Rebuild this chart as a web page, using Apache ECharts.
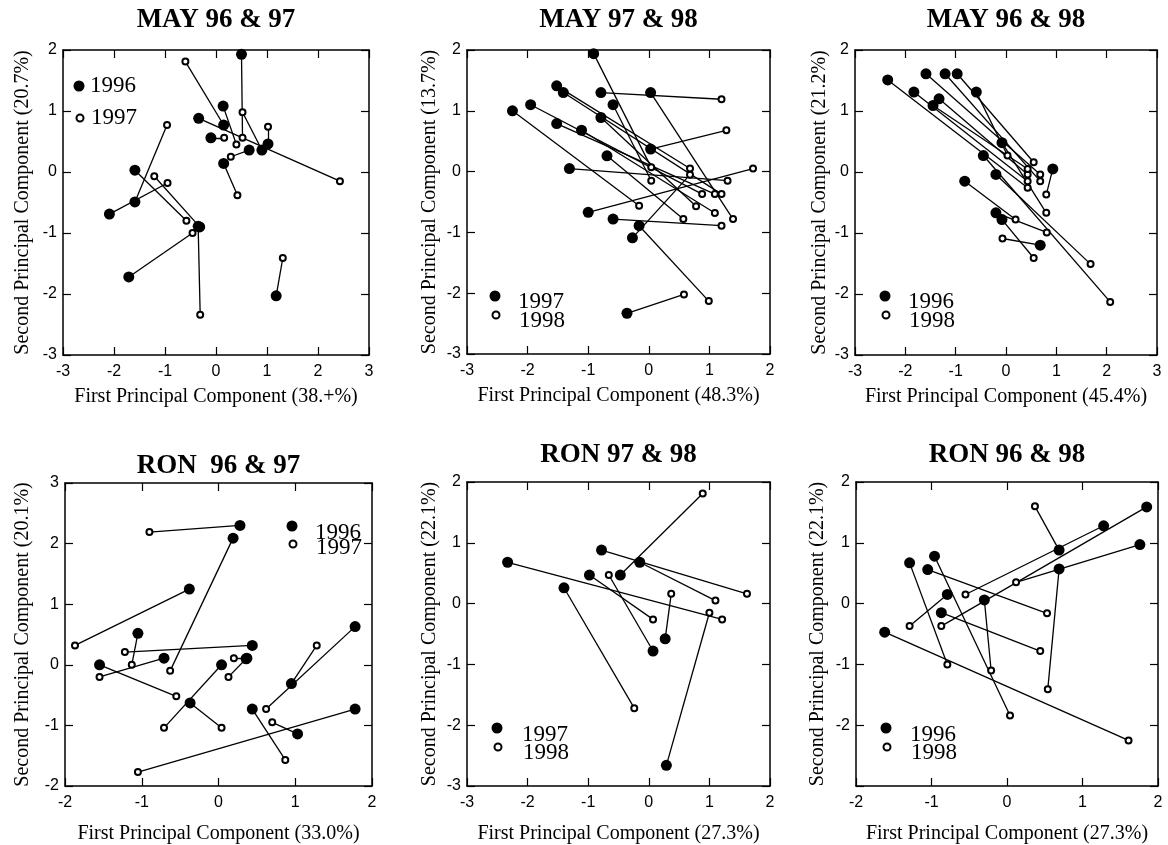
<!DOCTYPE html>
<html><head><meta charset="utf-8">
<script src="https://cdn.jsdelivr.net/npm/echarts@6/dist/echarts.min.js"></script>
<style>html,body{margin:0;padding:0;background:#fff}#c{width:1168px;height:845px}</style>
</head><body><div id="c"></div>
<script>
// ---------------- data (paired by index: earlier year -> later year) ----------------
const may9697_1996 = [[0.50,1.93],[0.14,1.08],[-0.34,0.88],[0.15,0.77],[-0.10,0.56],[0.65,0.36],[0.90,0.36],[1.02,0.46],[0.15,0.14],[-1.59,0.03],[-1.59,-0.49],[-2.09,-0.69],[-0.32,-0.90],[-0.35,-0.89],[-1.71,-1.72],[1.18,-2.03]];
const may9697_1997 = [[0.52,0.56],[0.40,0.45],[2.43,-0.15],[-0.60,1.81],[0.16,0.56],[0.29,0.25],[0.52,0.98],[1.02,0.74],[0.42,-0.38],[-0.58,-0.80],[-0.96,0.77],[-0.95,-0.18],[-1.21,-0.07],[-0.31,-2.34],[-0.46,-1.00],[1.31,-1.41]];

const may9798_1997 = [[-0.91,1.94],[-1.52,1.41],[-1.41,1.30],[-0.79,1.30],[0.03,1.30],[-0.59,1.10],[-1.95,1.10],[-2.25,1.00],[-0.79,0.89],[-1.52,0.79],[-1.11,0.68],[0.03,0.37],[-0.69,0.26],[-1.31,0.05],[-1.00,-0.67],[-0.59,-0.78],[-0.16,-0.89],[-0.27,-1.09],[-0.36,-2.33]];
const may9798_1998 = [[0.04,0.07],[0.68,0.05],[1.20,-0.37],[1.20,1.19],[1.39,-0.78],[0.04,-0.15],[0.88,-0.37],[-0.16,-0.56],[0.78,-0.57],[1.09,-0.37],[1.09,-0.68],[1.28,0.68],[0.57,-0.78],[1.30,-0.15],[1.72,0.05],[1.20,-0.89],[0.99,-2.13],[0.68,-0.05],[0.58,-2.02]];

const may9698_1996 = [[-2.35,1.51],[-1.83,1.31],[-1.59,1.61],[-1.21,1.61],[-0.97,1.61],[-0.59,1.31],[-1.33,1.20],[-1.45,1.09],[-0.08,0.48],[-0.45,0.27],[0.93,0.05],[-0.82,-0.15],[-0.20,-0.04],[-0.20,-0.67],[-0.08,-0.78],[0.68,-1.20]];
const may9698_1998 = [[0.43,-0.26],[0.43,-0.15],[0.68,-0.04],[0.68,-0.15],[0.55,0.16],[0.03,0.27],[0.43,-0.04],[0.43,0.05],[0.80,-0.67],[2.07,-2.13],[0.80,-0.37],[0.19,-0.78],[1.68,-1.51],[0.81,-0.99],[0.55,-1.41],[-0.07,-1.09]];

const ron9697_1996 = [[0.28,2.30],[0.19,2.09],[-0.38,1.25],[-1.05,0.52],[0.44,0.32],[-1.55,0.00],[-0.71,0.11],[0.04,0.00],[0.37,0.11],[0.36,0.10],[-0.37,-0.63],[1.78,0.63],[0.95,-0.31],[0.44,-0.73],[1.03,-1.14],[1.78,-0.73]];
const ron9697_1997 = [[-0.90,2.19],[-0.63,-0.10],[-1.87,0.32],[-1.13,0.00],[-1.22,0.21],[-0.55,-0.52],[-1.55,-0.20],[-0.71,-1.04],[0.20,0.11],[0.13,-0.20],[0.04,-1.04],[0.62,-0.73],[1.28,0.32],[0.87,-1.57],[0.70,-0.95],[-1.05,-1.77]];

const ron9798_1997 = [[-2.33,0.68],[-0.78,0.88],[-0.15,0.68],[-0.98,0.47],[-0.47,0.47],[-1.40,0.26],[0.27,-0.58],[0.07,-0.78],[0.29,-2.66]];
const ron9798_1998 = [[1.21,-0.26],[1.62,0.16],[1.10,0.05],[0.07,-0.26],[0.89,1.81],[-0.24,-1.72],[0.37,0.16],[-0.66,0.47],[1.00,-0.15]];

const ron9698_1996 = [[1.85,1.59],[1.28,1.28],[0.69,0.88],[1.76,0.97],[0.69,0.57],[-1.29,0.67],[-0.96,0.78],[-1.05,0.56],[-0.79,0.15],[-0.30,0.06],[-0.87,-0.15],[-1.62,-0.47]];
const ron9698_1998 = [[-0.87,-0.37],[-0.55,0.15],[0.37,1.60],[0.12,0.35],[0.54,-1.41],[-0.79,-1.00],[0.04,-1.84],[0.53,-0.16],[-1.29,-0.37],[-0.21,-1.10],[0.44,-0.78],[1.61,-2.25]];

// titles, legend labels, axis ranges and axis names
const titles = ['MAY 96 & 97','MAY 97 & 98','MAY 96 & 98','RON  96 & 97','RON 97 & 98','RON 96 & 98'];
const yearA = ['1996','1997','1996','1996','1997','1996'];
const yearB = ['1997','1998','1998','1997','1998','1998'];
const xRanges = [[-3,3],[-3,2],[-3,3],[-2,2],[-3,2],[-2,2]];
const yRanges = [[-3,2],[-3,2],[-3,2],[-2,3],[-3,2],[-3,2]];
const hiddenYLabels = [[],[],[],[],[],[-3]];
const xNames = ['First Principal Component (38.+%)','First Principal Component (48.3%)','First Principal Component (45.4%)','First Principal Component (33.0%)','First Principal Component (27.3%)','First Principal Component (27.3%)'];
const yNames = ['Second Principal Component (20.7%)','Second Principal Component (13.7%)','Second Principal Component (21.2%)','Second Principal Component (20.1%)','Second Principal Component (22.1%)','Second Principal Component (22.1%)'];
const seriesA = [may9697_1996, may9798_1997, may9698_1996, ron9697_1996, ron9798_1997, ron9698_1996];
const seriesB = [may9697_1997, may9798_1998, may9698_1998, ron9697_1997, ron9798_1998, ron9698_1998];

// ---------------- layout (pixels) ----------------
// legend entries: [iconCenterX, iconCenterY, textLeftX, textCenterY]
const layout = [
  {grid:[63,50,306,305], titleY:20, yGap:30, xGap:32, legA:[79,86,90,86], legB:[79,118,90,118]},
  {grid:[467,50,303,304], titleY:20, yGap:27, xGap:32, legA:[495,296,518,302], legB:[495,315,518,321]},
  {grid:[855,50,302,305], titleY:20, yGap:25, xGap:32, legA:[885,296,908,302], legB:[885,315,908,321]},
  {grid:[65,483,307,304], titleY:466, yGap:32, xGap:38, legA:[292,526,315,533], legB:[292,544,315,548]},
  {grid:[467,482,303,305], titleY:455, yGap:27, xGap:38, legA:[497,728,522,735], legB:[497,747,522,753]},
  {grid:[856,482,302,305], titleY:455, yGap:28, xGap:38, legA:[886,728,910,735], legB:[886,747,910,753]}
];

const SERIF = 'Liberation Serif, Times New Roman, serif';
const SANS = 'Liberation Sans, Arial, sans-serif';
const LEG_FS = 23;
const line = {show:true, onZero:false, lineStyle:{color:'#000', width:1.5}};
const tick = {show:true, inside:true, length:8, lineStyle:{color:'#000', width:1.2}};

const grid = [], xAxis = [], yAxis = [], series = [], legend = [], graphic = [];
const nameMap = {};

layout.forEach((L, i) => {
  const [gl, gt, gw, gh] = L.grid;
  grid.push({left:gl, top:gt, width:gw, height:gh, containLabel:false});
  const hide = hiddenYLabels[i];
  xAxis.push({gridIndex:i, type:'value', position:'bottom', min:xRanges[i][0], max:xRanges[i][1], interval:1,
    axisLine:line, axisTick:tick, splitLine:{show:false},
    axisLabel:{color:'#000', fontFamily:SANS, fontSize:16, margin:9, showMinLabel:true, showMaxLabel:true},
    name:xNames[i], nameLocation:'middle', nameGap:L.xGap,
    nameTextStyle:{fontFamily:SERIF, fontSize:20, color:'#000'}});
  xAxis.push({gridIndex:i, type:'value', position:'top', min:xRanges[i][0], max:xRanges[i][1], interval:1,
    axisLine:line, axisTick:tick, splitLine:{show:false}, axisLabel:{show:false}});
  yAxis.push({gridIndex:i, type:'value', position:'left', min:yRanges[i][0], max:yRanges[i][1], interval:1,
    axisLine:line, axisTick:tick, splitLine:{show:false},
    axisLabel:{color:'#000', fontFamily:SANS, fontSize:16, margin:6, showMinLabel:true, showMaxLabel:true,
      formatter:v => hide.indexOf(v) >= 0 ? '' : String(v)},
    name:yNames[i], nameLocation:'middle', nameGap:L.yGap, nameRotate:90,
    nameTextStyle:{fontFamily:SERIF, fontSize:20, color:'#000'}});
  yAxis.push({gridIndex:i, type:'value', position:'right', min:yRanges[i][0], max:yRanges[i][1], interval:1,
    axisLine:line, axisTick:tick, splitLine:{show:false}, axisLabel:{show:false}});

  const A = seriesA[i], B = seriesB[i];
  series.push({type:'lines', coordinateSystem:'cartesian2d', xAxisIndex:2*i, yAxisIndex:2*i, silent:true, z:1,
    lineStyle:{color:'#000', width:1.3, opacity:1, curveness:0},
    data:A.map((p, k) => ({coords:[p, B[k]]}))});
  const nA = 'p' + i + 'a', nB = 'p' + i + 'b';
  nameMap[nA] = yearA[i]; nameMap[nB] = yearB[i];
  series.push({type:'scatter', name:nB, xAxisIndex:2*i, yAxisIndex:2*i, symbol:'circle', symbolSize:6, z:2,
    itemStyle:{color:'#fff', borderColor:'#000', borderWidth:2, opacity:1}, data:B});
  series.push({type:'scatter', name:nA, xAxisIndex:2*i, yAxisIndex:2*i, symbol:'circle', symbolSize:11, z:3,
    itemStyle:{color:'#000', opacity:1}, data:A});

  const mk = (name, cfg, filled) => {
    const size = filled ? 11 : 7;
    const pTop = Math.max(0, 2 * (cfg[3] - cfg[1]));
    const pLeft = Math.max(0, cfg[2] - (cfg[0] + size / 2) - 5);
    const boxH = Math.max(size, LEG_FS + pTop);
    return {
      left:cfg[0] - size / 2, top:cfg[1] - boxH / 2, padding:0, itemGap:0, selectedMode:false, orient:'vertical',
      itemWidth:size, itemHeight:size,
      formatter:n => '{t|' + nameMap[n] + '}',
      textStyle:{color:'#000', rich:{t:{fontFamily:SERIF, fontSize:LEG_FS, color:'#000', lineHeight:LEG_FS, padding:[pTop,0,0,pLeft]}}},
      data:[{name, icon:'circle', itemStyle: filled ? {color:'#000', borderWidth:0} : {color:'#fff', borderColor:'#000', borderWidth:2}}]
    };
  };
  legend.push(mk(nA, L.legA, true));
  legend.push(mk(nB, L.legB, false));

  graphic.push({type:'text', x:gl + gw/2, y:L.titleY, silent:true,
    style:{text:titles[i], textAlign:'center', textVerticalAlign:'middle',
      font:'bold 27px ' + SERIF, fill:'#000'}});
});

const chart = echarts.init(document.getElementById('c'), null, {renderer:'canvas'});
chart.setOption({animation:false, backgroundColor:'#fff', grid, xAxis, yAxis, series, legend, graphic});
</script>
</body></html>
